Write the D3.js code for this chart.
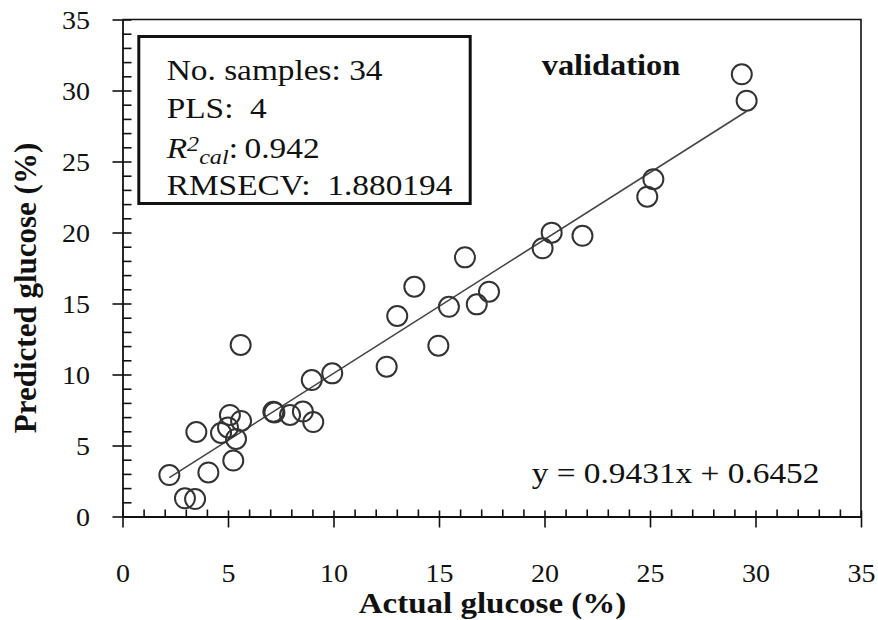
<!DOCTYPE html>
<html>
<head>
<meta charset="utf-8">
<script src="https://cdn.jsdelivr.net/npm/d3@7"></script>
<style>
  body { margin: 0; background: #fff; }
  svg { display: block; font-family: "Liberation Serif", "Times New Roman", serif; }
  text { white-space: pre; }
</style>
</head>
<body>
<svg id="chart" width="878" height="620"></svg>
<script>
// actual vs predicted glucose (%)
var actual = [2.22, 2.96, 3.44, 3.50, 4.07, 4.67, 5.09, 5.00, 5.38, 5.25, 5.62, 5.60,
  7.15, 7.20, 7.94, 8.55, 9.04, 8.97, 9.94, 12.52, 13.02, 13.83, 14.97, 15.47,
  16.23, 16.79, 17.37, 19.91, 20.34, 21.80, 25.16, 24.87, 29.35, 29.58];
var predicted = [2.92, 1.28, 1.23, 5.95, 3.10, 5.88, 7.15, 6.27, 5.46, 3.94, 6.73, 12.08,
  7.38, 7.32, 7.15, 7.39, 6.65, 9.61, 10.08, 10.55, 14.12, 16.18, 12.03, 14.77,
  18.25, 14.94, 15.83, 18.89, 19.99, 19.77, 23.75, 22.52, 31.14, 29.28];

var slope = 0.9431, intercept = 0.6452;
var majorTicks = [0, 5, 10, 15, 20, 25, 30, 35];
var minorTicks = d3.range(0, 36).filter(function (v) { return v % 5 !== 0; });
var infoLines = ['No. samples: 34', 'PLS:  4', null, 'RMSECV:  1.880194'];

var svg = d3.select('#chart');
var margin = {top: 19.5, right: 17, bottom: 103.5, left: 122.5};
var width = 878 - margin.left - margin.right;
var height = 620 - margin.top - margin.bottom;

var x = d3.scaleLinear().domain([0, 35]).range([0, width]);
var y = d3.scaleLinear().domain([0, 35]).range([height, 0]);

var g = svg.append('g')
  .attr('transform', 'translate(' + margin.left + ',' + margin.top + ')');

function stretch(sel, px, py, k) {
  sel.attr('x', 0).attr('y', 0).attr('dy', null)
    .attr('transform', 'translate(' + px + ',' + py + ') scale(' + k + ',1)');
}

// frame (top and right)
g.append('path')
  .attr('d', 'M0,0H' + width + 'V' + height)
  .attr('fill', 'none').attr('stroke', '#111').attr('stroke-width', 1.6);

// minor ticks, inside
g.append('g')
  .attr('transform', 'translate(0,' + height + ')')
  .call(d3.axisBottom(x).tickValues(minorTicks).tickSize(-7).tickFormat(''))
  .call(function (a) { a.select('.domain').remove(); });
g.append('g')
  .call(d3.axisLeft(y).tickValues(minorTicks).tickSize(-9).tickFormat(''))
  .call(function (a) { a.select('.domain').remove(); });

// major ticks crossing the axes
var xAxis = g.append('g')
  .attr('transform', 'translate(0,' + height + ')')
  .call(d3.axisBottom(x).tickValues(majorTicks).tickSizeOuter(0).tickFormat(d3.format('d')));
xAxis.selectAll('.tick line').attr('y1', -6).attr('y2', 11);
xAxis.selectAll('.tick text').attr('font-size', 25).attr('fill', '#111')
  .each(function () { stretch(d3.select(this), 0, 65.5, 1.12); });

var yAxis = g.append('g')
  .call(d3.axisLeft(y).tickValues(majorTicks).tickSizeOuter(0).tickFormat(d3.format('d')));
yAxis.selectAll('.tick line').attr('x1', -10).attr('x2', 9);
yAxis.selectAll('.tick text').attr('font-size', 25).attr('fill', '#111')
  .attr('text-anchor', 'end')
  .each(function () { stretch(d3.select(this), -32.5, 8.5, 1.12); });

// d3 axes set a sans-serif font on their group; drop it
g.selectAll('g').attr('font-family', null).attr('font-size', null);
g.selectAll('.domain').attr('stroke', '#111').attr('stroke-width', 1.8);
g.selectAll('.tick line').attr('stroke', '#111').attr('stroke-width', 1.6);

// trend line over the data range
var xr = d3.extent(actual);
g.append('line')
  .attr('x1', x(xr[0])).attr('y1', y(slope * xr[0] + intercept))
  .attr('x2', x(xr[1])).attr('y2', y(slope * xr[1] + intercept))
  .attr('stroke', '#444').attr('stroke-width', 1.6);

// points
g.selectAll('.dot')
  .data(actual)
  .enter().append('circle')
  .attr('class', 'dot')
  .attr('cx', function (d) { return x(d); })
  .attr('cy', function (d, i) { return y(predicted[i]); })
  .attr('r', 10)
  .attr('fill', 'none')
  .attr('stroke', '#333')
  .attr('stroke-width', 2);

// info box
svg.append('rect')
  .attr('x', 138.8).attr('y', 36.5).attr('width', 331.4).attr('height', 167)
  .attr('fill', '#fff').attr('stroke', '#111').attr('stroke-width', 3);

var baselines = [80, 118.3, 158.3, 195];
infoLines.forEach(function (line, i) {
  var t = svg.append('text').attr('font-size', 29).attr('fill', '#111');
  if (line !== null) {
    t.text(line);
  } else {
    t.append('tspan').attr('font-style', 'italic').text('R');
    t.append('tspan').attr('font-style', 'italic').attr('font-size', 21).attr('dy', -7).text('2');
    t.append('tspan').attr('font-style', 'italic').attr('font-size', 21).attr('dy', 12.5).text('cal');
    t.append('tspan').attr('dy', -5.5).text(':\u20090.942');
  }
  stretch(t, 166.7, baselines[i], 1.15);
});

var label = svg.append('text').attr('font-size', 30).attr('font-weight', 'bold')
  .attr('fill', '#111').text('validation');
stretch(label, 541.7, 75, 1.08);

var eq = svg.append('text').attr('font-size', 29).attr('fill', '#111')
  .text('y = ' + slope + 'x + ' + intercept);
stretch(eq, 531.7, 483.3, 1.15);

// axis titles
var xt = svg.append('text').attr('font-size', 30).attr('font-weight', 'bold')
  .attr('text-anchor', 'middle').attr('fill', '#111').text('Actual glucose (%)');
stretch(xt, 492.5, 613, 1.1);

svg.append('text')
  .attr('font-size', 31).attr('font-weight', 'bold').attr('fill', '#111')
  .attr('text-anchor', 'middle')
  .attr('transform', 'translate(36,288) rotate(-90)')
  .text('Predicted glucose (%)');
</script>
</body>
</html>
